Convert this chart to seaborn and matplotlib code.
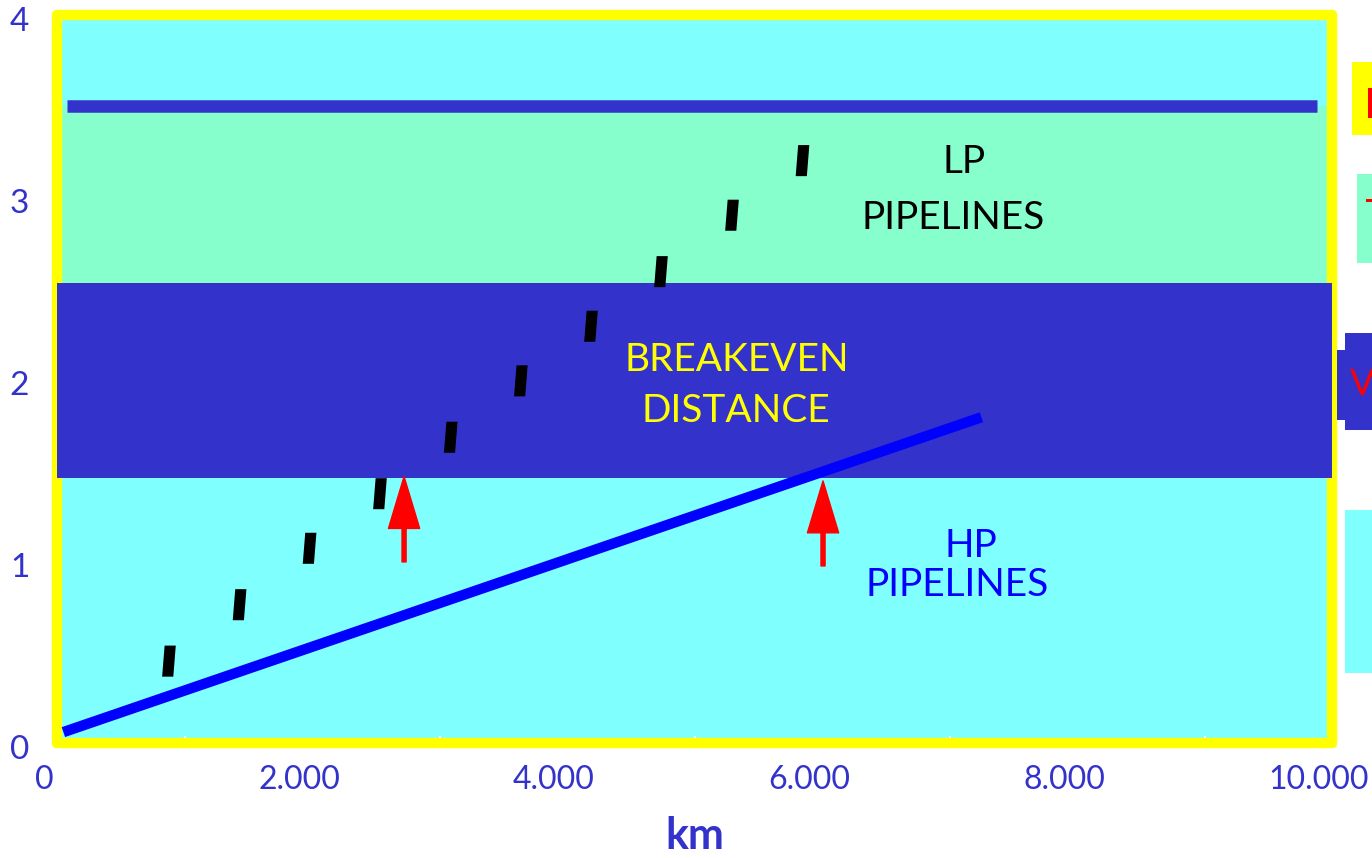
import numpy as np
import pandas as pd
import matplotlib.pyplot as plt
import matplotlib.transforms as mtransforms
from matplotlib.patches import Rectangle, FancyArrow
import seaborn as sns

# distances (km) and cost ratio
hp_km = [50, 7250]
hp_cost = [0.06, 1.79]

lp_km = [878, 1432, 1981, 2533, 3088, 3638, 4188, 4737, 5294, 5847]
lp_cost = [0.45, 0.76, 1.07, 1.37, 1.68, 1.99, 2.29, 2.59, 2.90, 3.20]

# limits of the coloured zones
breakeven_band = (1.456, 2.53)
lp_zone = (2.53, 3.5)
top_line = 3.5
top_line_km = (78, 9882)

# breakeven arrows: x, tail, tip
arrow_km = [2722, 6008]
arrow_tail = [0.995, 0.973]
arrow_tip = [1.464, 1.44]

xticks = [0, 2000, 4000, 6000, 8000, 10000]
xtick_labels = ["0", "2.000", "4.000", "6.000", "8.000", "10.000"]
yticks = [0, 1, 2, 3, 4]
ytick_labels = ["0", "1", "2", "3", "4"]

CYAN = "#80FFFF"
GREEN = "#87FFCC"
BAND = "#3333CC"
YELLOW = "#FFFF00"
RED = "#FF0000"

sns.set_style("white")
plt.rcParams["font.family"] = ["Lato", "DejaVu Sans"]

fig = plt.figure(figsize=(13.72, 8.58), dpi=100)
ax = fig.add_axes([0.04155, 0.1340, 0.9293, 0.8485])
ax.set_facecolor(CYAN)
ax.set_xlim(0, 10000)
ax.set_ylim(0, 4)

# zones
ax.axhspan(*lp_zone, color=GREEN, lw=0, zorder=1)
ax.axhspan(*breakeven_band, color=BAND, lw=0, zorder=3)
ax.hlines(top_line, *top_line_km, color=BAND, lw=9, capstyle="butt", zorder=2)

# HP pipelines line
hp = pd.DataFrame({"km": hp_km, "cost": hp_cost})
sns.lineplot(data=hp, x="km", y="cost", color="#0000FF", lw=7.5, ax=ax,
             zorder=4, solid_capstyle="butt")

# LP pipelines dashed trend, drawn as tilted dash markers
lp = pd.DataFrame({"km": lp_km, "cost": lp_cost})
dash = [(-0.22, -0.5), (0.14, -0.5), (0.22, 0.5), (-0.14, 0.5), (-0.22, -0.5)]
sns.scatterplot(data=lp, x="km", y="cost", marker=dash, s=500, color="black",
                edgecolor="none", linewidth=0, ax=ax, zorder=5)

for x, t0, t1 in zip(arrow_km, arrow_tail, arrow_tip):
    ax.add_patch(FancyArrow(x, t0, 0, t1 - t0, width=32, head_width=245,
                            head_length=0.285, length_includes_head=True,
                            color=RED, lw=1, joinstyle="round", zorder=5))

tkw = dict(ha="center", va="center", fontsize=28, zorder=6)
ax.text(7114, 3.195, "LP", color="black", **tkw)
ax.text(7027, 2.885, "PIPELINES", color="black", **tkw)
ax.text(5329, 2.104, "BREAKEVEN", color=YELLOW, **tkw)
ax.text(5325, 1.824, "DISTANCE", color=YELLOW, **tkw)
ax.text(7169, 1.085, "HP", color="#0000FF", **tkw)
ax.text(7059, 0.868, "PIPELINES", color="#0000FF", **tkw)

# frame and ticks
for sp in ax.spines.values():
    sp.set_visible(True)
    sp.set_color(YELLOW)
    sp.set_linewidth(7.5)
    sp.set_capstyle("round")

ax.set_xticks(xticks, xtick_labels)
ax.set_xticks(range(1000, 10000, 2000), minor=True)
ax.set_yticks(yticks, ytick_labels)
ax.tick_params(axis="both", which="major", direction="in", color="white",
               width=1.5, labelcolor=BAND, labelsize=24)
ax.tick_params(axis="x", which="major", length=11, pad=16, labelsize=23)
ax.tick_params(axis="x", which="minor", direction="in", color="white",
               width=1.5, length=5, bottom=True)
ax.tick_params(axis="y", which="major", length=8, pad=20)
xshift = mtransforms.ScaledTranslation(-13 / 100, 0, fig.dpi_scale_trans)
for lab in ax.get_xticklabels():
    lab.set_transform(lab.get_transform() + xshift)
yshift = mtransforms.ScaledTranslation(0, -4 / 100, fig.dpi_scale_trans)
for lab in ax.get_yticklabels():
    lab.set_transform(lab.get_transform() + yshift)

ax.set_xlabel("km", fontsize=31, fontweight="bold", color=BAND, labelpad=15)
ax.set_ylabel("")

# cut-off legend boxes at the right edge of the slide
W, H = 1372, 858
def box(x0, y0, x1, y1, c):
    fig.patches.append(Rectangle((x0 / W, 1 - y1 / H), (x1 - x0) / W,
                                 (y1 - y0) / H, transform=fig.transFigure,
                                 color=c, lw=0, zorder=0))
box(1352, 62, 1372, 135, YELLOW)
box(1357, 174, 1372, 263, GREEN)
box(1345, 333, 1372, 430, BAND)
box(1337, 350, 1345, 420, BAND)
box(1345, 510, 1372, 673, CYAN)
# only slivers of the red legend words show inside the boxes
box(1368, 88, 1372, 118, RED)
box(1366, 199, 1372, 202, RED)
fig.text(1350 / W, 1 - 385 / H, "V", color=RED, fontsize=26, va="center")

fig.savefig("out.png", dpi=100)
